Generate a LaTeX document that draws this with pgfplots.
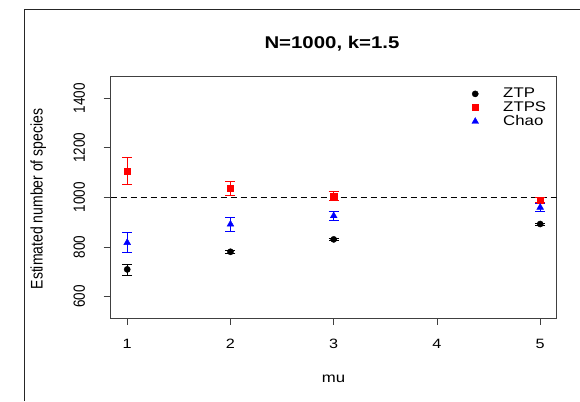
\documentclass[border=0pt]{standalone}
\usepackage{pgfplots}
\pgfplotsset{compat=1.18}
\usepackage{pgfplotstable}
\usepackage{graphicx}
\usepackage{fontspec}
\setmainfont{Liberation Sans}
\newcommand\hs[1]{\scalebox{1.2}[1]{#1}}
\newcommand\vs[1]{\scalebox{1}[1.2]{#1}}

\pgfplotstableread{
x y ep em
1 710 21 23
2 781 7 7
3 831 5 5
5 893 4 4
}\ztp
\pgfplotstableread{
x y ep em
1 1107 54 54
2 1038 28 28
3 1005 18 18
5 990 11 11
}\ztps
\pgfplotstableread{
x y ep em
1 818 41 41
2 892 28 28
3 926 20 20
5 960 17 17
}\chao

\begin{document}
\begin{tikzpicture}[x=1pt,y=1pt]
\useasboundingbox (0,0) rectangle (580,401);
\draw[line width=1pt, black!85] (24.5,0) -- (24.5,391.5) -- (580,391.5);
\begin{axis}[
  at={(110.7pt,83pt)}, anchor=south west,
  width=446pt, height=241.3pt, scale only axis,
  xmin=0.84, xmax=5.16, ymin=514, ymax=1487,
  axis line style={black!75, line width=0.9pt},
  xtick={1,2,3,4,5},
  xticklabels={\hs{1},\hs{2},\hs{3},\hs{4},\hs{5}},
  ytick={600,800,1000,1200,1400},
  yticklabels={\vs{600},\vs{800},\vs{1000},\vs{1200},\vs{1400}},
  tick align=outside, xtick pos=bottom, ytick pos=left,
  major tick length=7pt,
  every tick/.style={black!75, line width=0.8pt},
  tick label style={font=\fontsize{13.5}{16}\selectfont, text=black},
  xticklabel style={anchor=base},
  xticklabel shift=24pt,
  yticklabel style={anchor=base, rotate=90},
  yticklabel shift=18.7pt,
  legend style={draw=none, fill=none, at={(axis description cs:0.79,0.961)}, anchor=north west,
    inner sep=0pt, row sep=-1.5pt, font=\fontsize{14}{16}\selectfont},
  legend cell align=left,
  legend image code/.code={\path[draw=none, fill=none] (0pt,-3pt) rectangle (38pt,3pt);
    \draw[#1, mark repeat=2, mark phase=2] plot coordinates {(0pt,0pt)(12pt,0pt)(24pt,0pt)};},
]
\addplot[black, line width=0.8pt, dash pattern=on 6pt off 4pt, forget plot] coordinates {(0.84,1000) (5.16,1000)};
\addplot[only marks, mark=*, mark size=3.1pt, black,
  error bars/.cd, y dir=both, y explicit,
  error bar style={black, line width=0.7pt},
  error mark options={black, line width=0.7pt, mark size=5pt, rotate=90}]
  table[x=x, y=y, y error plus=ep, y error minus=em]{\ztp};
\addlegendentry{\hs{ZTP}}
\addplot[only marks, mark=square*, mark size=3.1pt, red,
  error bars/.cd, y dir=both, y explicit,
  error bar style={red, line width=0.7pt},
  error mark options={red, line width=0.7pt, mark size=5pt, rotate=90}]
  table[x=x, y=y, y error plus=ep, y error minus=em]{\ztps};
\addlegendentry{\hs{ZTPS}}
\addplot[only marks, mark=triangle*, mark size=3.9pt, blue,
  error bars/.cd, y dir=both, y explicit,
  error bar style={blue, line width=0.7pt},
  error mark options={blue, line width=0.7pt, mark size=5pt, rotate=90}]
  table[x=x, y=y, y error plus=ep, y error minus=em]{\chao};
\addlegendentry{\hs{Chao}}
\end{axis}
\node[anchor=base, font=\fontsize{17}{20}\selectfont\bfseries] at (332,352) {\hs{N=1000, k=1.5}};
\node[anchor=base, font=\fontsize{14}{17}\selectfont] at (333.5,18) {\hs{mu}};
\node[anchor=base, rotate=90, font=\fontsize{14}{17}\selectfont] at (42.7,202) {\vs{Estimated number of species}};
\end{tikzpicture}
\end{document}
